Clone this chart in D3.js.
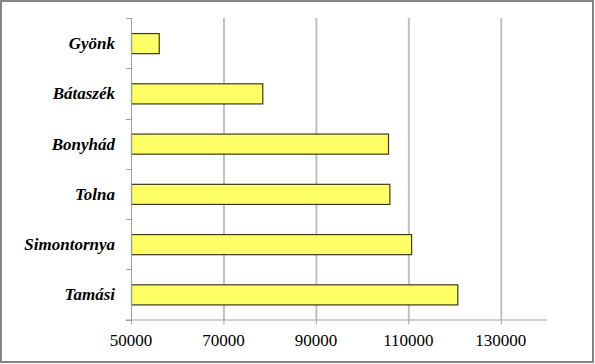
<!DOCTYPE html>
<html><head><meta charset="utf-8">
<script src="https://cdn.jsdelivr.net/npm/d3@7/dist/d3.min.js"></script>
<style>body{margin:0;background:#fff}svg{display:block}</style>
</head><body>
<script>
const categories = ["Gyönk","Bátaszék","Bonyhád","Tolna","Simontornya","Tamási"];
const values = [56000, 78400, 105600, 105900, 110600, 120600];
const tickValues = [50000, 70000, 90000, 110000, 130000];

const W = 595, H = 364;
const FONT = '"Liberation Serif"';
const svg = d3.select("body").append("svg").attr("width", W).attr("height", H);

svg.append("rect").attr("x",1).attr("y",1).attr("width",W-3).attr("height",H-3)
  .attr("fill","#fff").attr("stroke","#858585").attr("stroke-width",2);

const x = d3.scaleLinear().domain([50000,140000]).range([131,547]);
const y = d3.scaleBand().domain(categories).range([18,319.5]).paddingInner(0.6).paddingOuter(0.3);

// gridlines
svg.append("g").selectAll("line").data(tickValues.slice(1)).join("line")
  .attr("x1",d=>x(d)+0.5).attr("x2",d=>x(d)+0.5).attr("y1",18).attr("y2",319.5)
  .attr("stroke","#c0c0c0").attr("stroke-width",2);

// bars
svg.append("g").selectAll("rect").data(values).join("rect")
  .attr("x",x(50000)+0.5).attr("y",(d,i)=>y(categories[i])+0.5)
  .attr("width",d=>x(d)-x(50000)).attr("height",y.bandwidth())
  .attr("fill","#ffff66").attr("stroke","#3a3a20").attr("stroke-width",1.2);

// x axis (lines only)
const xAxis = d3.axisBottom(x).tickValues(tickValues).tickSize(5).tickSizeOuter(0).tickFormat("");
const gx = svg.append("g").attr("transform","translate(0,319.5)").call(xAxis);
gx.select(".domain").attr("stroke","#a0a0a0").attr("d","M126,0.5H547");
gx.selectAll(".tick line").attr("stroke","#a0a0a0");
gx.selectAll(".tick text").remove();

// x tick labels
svg.append("g").selectAll("text").data(tickValues).join("text")
  .attr("x", d => x(d)).attr("y", 346)
  .attr("text-anchor","middle")
  .style("font-family", FONT).style("font-size","17px").style("fill","#000")
  .text(d3.format("d"));

// y axis (line only)
const gy = svg.append("g").attr("transform","translate(131.5,0)")
  .call(d3.axisLeft(y).tickSize(0).tickFormat(""));
gy.select(".domain").attr("stroke","#a0a0a0").attr("d","M0,18V319.5");
gy.selectAll(".tick").remove();

// category labels
svg.append("g").selectAll("text").data(categories).join("text")
  .attr("x", 115).attr("y", d => y(d) + y.bandwidth()/2 + 6)
  .attr("text-anchor","end")
  .style("font-family", FONT).style("font-size","17px").style("fill","#000")
  .style("font-weight","bold").style("font-style","italic")
  .text(d => d);

// category boundary ticks
const bounds = d3.range(categories.length+1).map(i=>18 + i*(319.5-18)/categories.length);
svg.append("g").selectAll("line").data(bounds).join("line")
  .attr("x1",126).attr("x2",131.5).attr("y1",d=>Math.round(d)+0.5).attr("y2",d=>Math.round(d)+0.5)
  .attr("stroke","#a0a0a0");
</script>
</body></html>
